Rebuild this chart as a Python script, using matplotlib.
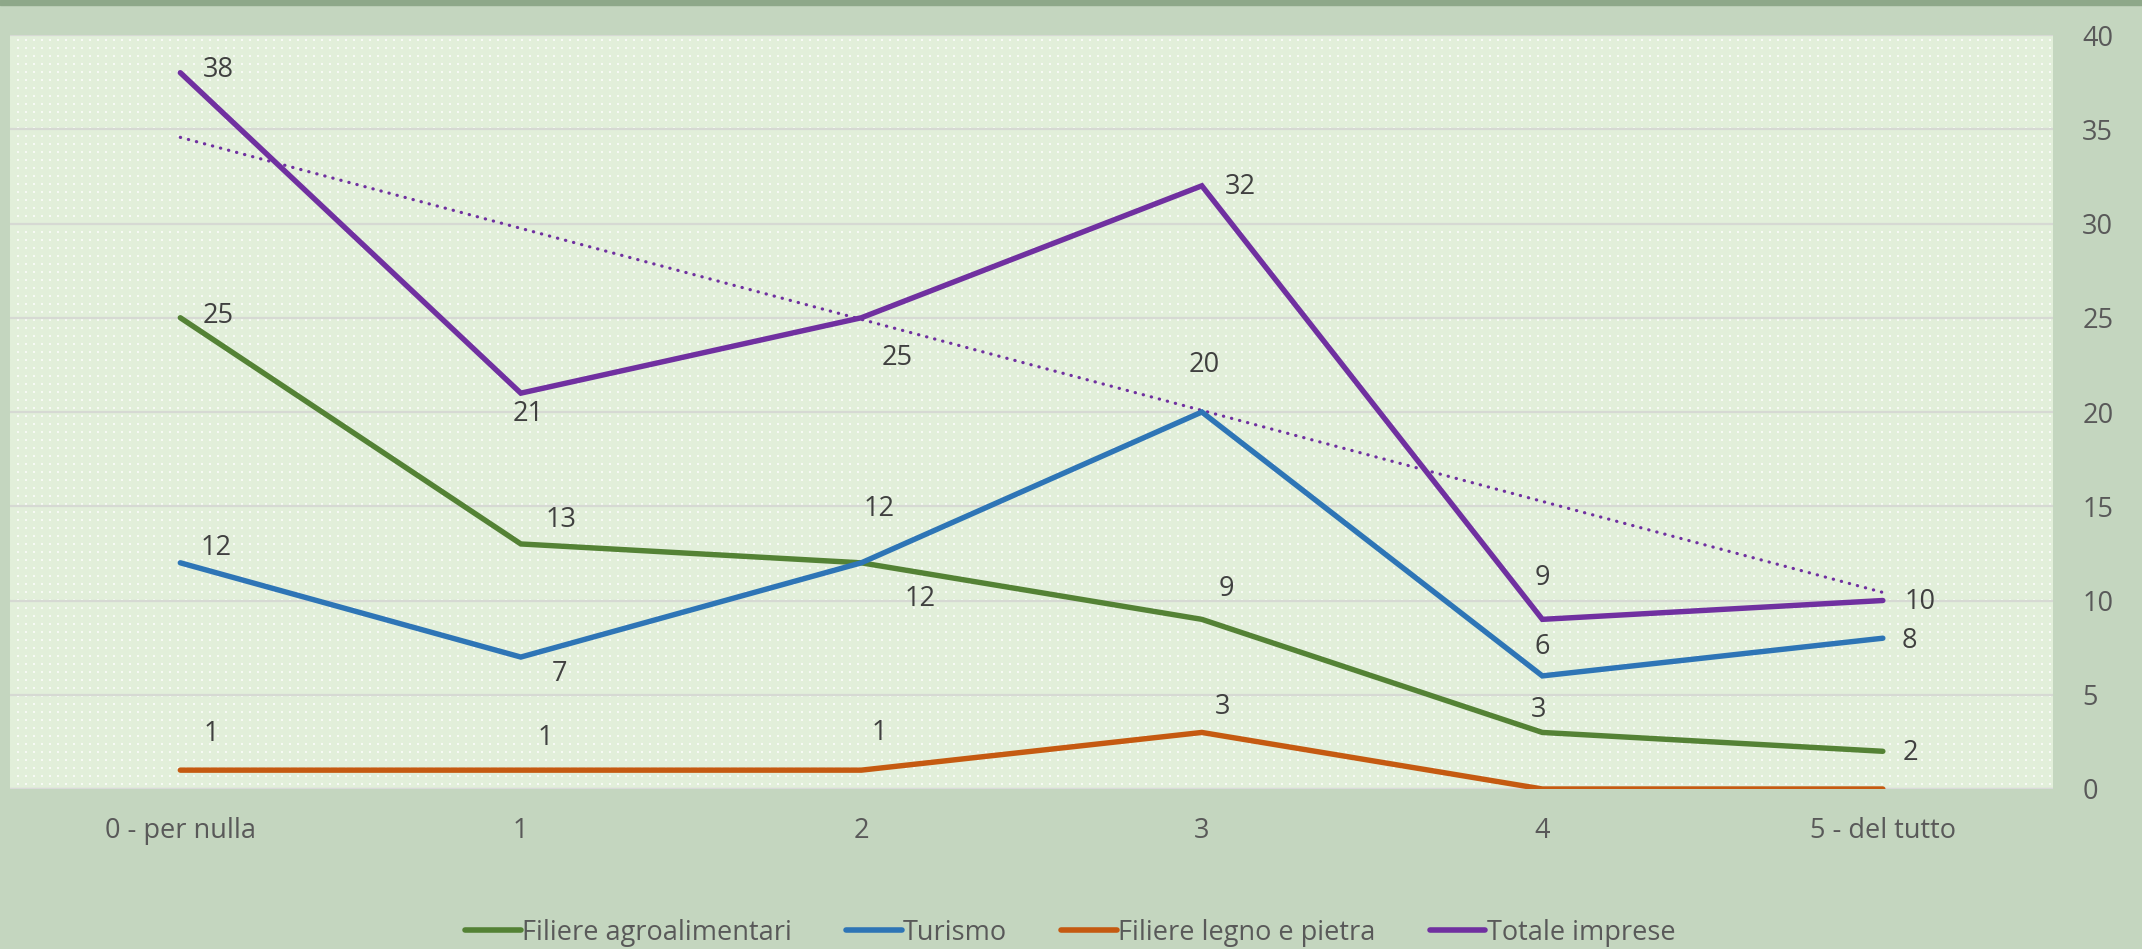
import numpy as np
import matplotlib
matplotlib.use("Agg")
import matplotlib.pyplot as plt

plt.rcParams['font.family'] = ['Open Sans', 'DejaVu Sans']

categorie = ["0 - per nulla", "1", "2", "3", "4", "5 - del tutto"]
agroalimentari = [25, 13, 12, 9, 3, 2]
turismo = [12, 7, 12, 20, 6, 8]
legno_pietra = [1, 1, 1, 3, 0, 0]
totale = [38, 21, 25, 32, 9, 10]
y_ticks = [0, 5, 10, 15, 20, 25, 30, 35, 40]

# label offsets (points) tuned to match the reference placement
off_agro = [(27, 1), (29, 17), (42, -26), (18, 22), (-3, 16), (20, -1)]
off_tur = [(26, 11), (28, -12), (13, 39), (2, 34), (0, 21), (19, -2)]
off_legno = [(22, 26), (18, 23), (13, 27), (15, 18), None, None]
off_tot = [(27, 2), (5, -15), (26, -29), (28, -1), (0, 30), (27, -1)]

c_agro = "#548235"
c_tur = "#2e75b6"
c_legno = "#c55a11"
c_tot = "#7030a0"

fig = plt.figure(figsize=(21.42, 9.49), dpi=100)
fig.patch.set_facecolor("#c4d6bf")
# dark strip at the top
fig.patches.append(plt.Rectangle((0, 0.995), 1, 0.005, transform=fig.transFigure,
                                 color="#8ea889", zorder=0))

ax = fig.add_axes([0.0047, 0.1686, 0.9538, 0.7945])
ax.set_facecolor("#e2efda")

# dotted texture of plot area
gx, gy = np.meshgrid(np.arange(0.004, 1, 8 / 2043), np.arange(0.006, 1, 8 / 754))
ax.scatter(gx.ravel(), gy.ravel(), s=1.2, marker="s", color="white", alpha=0.75,
           linewidths=0, transform=ax.transAxes, zorder=0)

x = np.arange(len(categorie))
for yv in y_ticks[1:]:
    ax.axhline(yv, color="#d6d9d3", lw=1.6, zorder=1)
ax.axhline(0, color="#d9d9d9", lw=2.5, zorder=1)

coef = np.polyfit(x, totale, 1)
ax.plot(x, np.polyval(coef, x), color=c_tot, lw=2.3, linestyle=(0, (0.1, 2.5)),
        dash_capstyle="round", zorder=2)

series = [
    ("Filiere agroalimentari", agroalimentari, c_agro, off_agro),
    ("Turismo", turismo, c_tur, off_tur),
    ("Filiere legno e pietra", legno_pietra, c_legno, off_legno),
    ("Totale imprese", totale, c_tot, off_tot),
]
for nome, vals, col, offs in series:
    ax.plot(x, vals, color=col, lw=3.9, solid_capstyle="round", solid_joinstyle="miter",
            label=nome, zorder=3)
    for xi, v, o in zip(x, vals, offs):
        if o is None:
            continue
        ax.annotate(str(v), (xi, v), xytext=o, textcoords="offset points",
                    ha="center", va="center", fontsize=19.5, color="#404040", zorder=4)

ax.set_xlim(-0.5, 5.5)
ax.set_ylim(0, 40)
ax.set_xticks(x)
ax.set_xticklabels(categorie)
ax.set_yticks(y_ticks)
ax.yaxis.tick_right()
ax.tick_params(axis="y", length=0, pad=21, labelsize=19.5, labelcolor="#595959")
for t in ax.get_yticklabels():
    t.set_horizontalalignment("left")
ax.tick_params(axis="x", length=0, pad=20, labelsize=19.5, labelcolor="#595959")
for s in ax.spines.values():
    s.set_visible(False)

leg = fig.legend(loc="center", bbox_to_anchor=(0.4996, 0.017), ncol=4, frameon=False,
                 fontsize=19.5, handlelength=2.05, handletextpad=0.05, columnspacing=2.0,
                 labelcolor="#595959")
for h in leg.get_lines():
    h.set_linewidth(4)

fig.savefig("out.png", dpi=100, facecolor=fig.get_facecolor())
